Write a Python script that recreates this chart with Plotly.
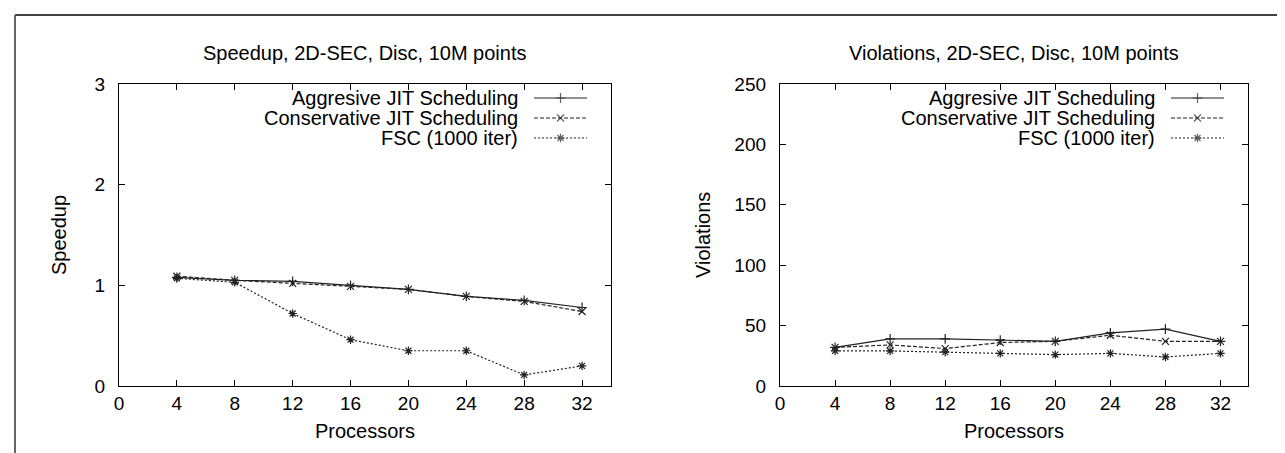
import plotly.graph_objects as go

W, H = 1285, 453

processors = [4, 8, 12, 16, 20, 24, 28, 32]

speed_aggr = [1.08, 1.05, 1.04, 1.00, 0.96, 0.89, 0.85, 0.78]
speed_cons = [1.09, 1.05, 1.02, 0.99, 0.96, 0.89, 0.84, 0.74]
speed_fsc = [1.07, 1.03, 0.72, 0.46, 0.35, 0.35, 0.11, 0.20]

viol_aggr = [32, 39, 39, 38, 37, 44, 47, 37]
viol_cons = [32, 34, 31, 36, 37, 42, 37, 37]
viol_fsc = [29, 29, 28, 27, 26, 27, 24, 27]

series_names = ["Aggresive JIT Scheduling", "Conservative JIT Scheduling", "FSC (1000 iter)"]
dashes = ["solid", "4px,2px", "2px,2px"]
symbols = ["cross-thin", "x-thin", "asterisk"]

titles = ["Speedup, 2D-SEC, Disc, 10M points", "Violations, 2D-SEC, Disc, 10M points"]
ytitles = ["Speedup", "Violations"]
xtitle = "Processors"

x_ticks = [0, 4, 8, 12, 16, 20, 24, 28, 32]
speed_ticks = [0, 1, 2, 3]
viol_ticks = [0, 50, 100, 150, 200, 250]

FONT = "Liberation Sans, Arial, sans-serif"
FS = 20
TFS = 19
LC = "#222222"

# pixel layout of the two panels
panels = [
    dict(l=111, r=603, t=76, b=378),
    dict(l=772, r=1240, t=76, b=378),
]

fig = go.Figure()

def add_series(vals_list, xa, ya):
    for name, vals, d, s in zip(series_names, vals_list, dashes, symbols):
        fig.add_trace(go.Scatter(
            x=processors, y=vals, mode="lines+markers", name=name,
            xaxis=xa, yaxis=ya, showlegend=False,
            line=dict(color=LC, width=1.2, dash=d),
            marker=dict(symbol=s, size=7, color=LC, line=dict(color=LC, width=1.2)),
        ))

add_series([speed_aggr, speed_cons, speed_fsc], "x", "y")
add_series([viol_aggr, viol_cons, viol_fsc], "x2", "y2")

def xdom(p):
    return [p["l"] / W, p["r"] / W]

def ydom(p):
    return [1 - p["b"] / H, 1 - p["t"] / H]

axis_common = dict(
    showgrid=False, zeroline=False, showline=True, linecolor="black", linewidth=1.3,
    mirror="ticks", ticks="inside", ticklen=6, tickwidth=1, tickcolor="black",
    tickfont=dict(family=FONT, size=TFS, color="black"), automargin=False,
)

layout = dict(
    width=W, height=H,
    margin=dict(l=0, r=0, t=0, b=0),
    paper_bgcolor="white", plot_bgcolor="rgba(0,0,0,0)",
    font=dict(family=FONT, size=FS, color="black"),
    showlegend=False,
    xaxis=dict(domain=xdom(panels[0]), range=[0, 34], tickvals=x_ticks, anchor="y",
               ticklabelstandoff=0, **axis_common),
    yaxis=dict(domain=ydom(panels[0]), range=[0, 3], tickvals=speed_ticks, anchor="x",
               ticklabelstandoff=9, **axis_common),
    xaxis2=dict(domain=xdom(panels[1]), range=[0, 34], tickvals=x_ticks, anchor="y2",
                ticklabelstandoff=0, **axis_common),
    yaxis2=dict(domain=ydom(panels[1]), range=[0, 250], tickvals=viol_ticks, anchor="x2",
                ticklabelstandoff=9, **axis_common),
    xaxis3=dict(domain=[0, 1], range=[0, W], visible=False, anchor="y3", fixedrange=True),
    yaxis3=dict(domain=[0, 1], range=[H, 0], visible=False, anchor="x3", fixedrange=True),
)
fig.update_layout(**layout)

annotations = []
shapes = []

# outer frame lines
shapes.append(dict(type="line", xref="x3", yref="y3", x0=7, y0=7, x1=W, y1=7,
                   line=dict(color="black", width=1.5), layer="above"))
shapes.append(dict(type="line", xref="x3", yref="y3", x0=7, y0=7, x1=7, y1=H,
                   line=dict(color="#666666", width=2), layer="above"))

legend_rows = [90, 110, 130]
for i, p in enumerate(panels):
    cx = (p["l"] + p["r"]) / 2
    cy = (p["t"] + p["b"]) / 2
    annotations.append(dict(text=titles[i], xref="x3", yref="y3", x=cx, y=45,
                            showarrow=False, xanchor="center", yanchor="middle",
                            font=dict(family=FONT, size=FS)))
    annotations.append(dict(text=xtitle, xref="x3", yref="y3", x=cx, y=423,
                            showarrow=False, xanchor="center", yanchor="middle",
                            font=dict(family=FONT, size=FS)))
    ylab_x = 51 if i == 0 else 695
    annotations.append(dict(text=ytitles[i], xref="x3", yref="y3", x=ylab_x, y=cy,
                            showarrow=False, textangle=-90, xanchor="center", yanchor="middle",
                            font=dict(family=FONT, size=FS)))
    text_right = p["r"] - 91
    s0 = text_right + 14
    s1 = s0 + 53
    for name, d, s, ry in zip(series_names, dashes, symbols, legend_rows):
        annotations.append(dict(text=name, xref="x3", yref="y3", x=text_right, y=ry,
                                showarrow=False, xanchor="right", yanchor="middle",
                                font=dict(family=FONT, size=FS)))
        fig.add_trace(go.Scatter(
            x=[s0, (s0 + s1) / 2, s1], y=[ry, ry, ry], mode="lines+markers",
            xaxis="x3", yaxis="y3", showlegend=False, hoverinfo="skip",
            line=dict(color=LC, width=1.2, dash=d),
            marker=dict(symbol=s, size=[0, 7, 0], color=LC, line=dict(color=LC, width=1.2)),
        ))

fig.update_layout(annotations=annotations, shapes=shapes)

fig.write_html("out.html")
